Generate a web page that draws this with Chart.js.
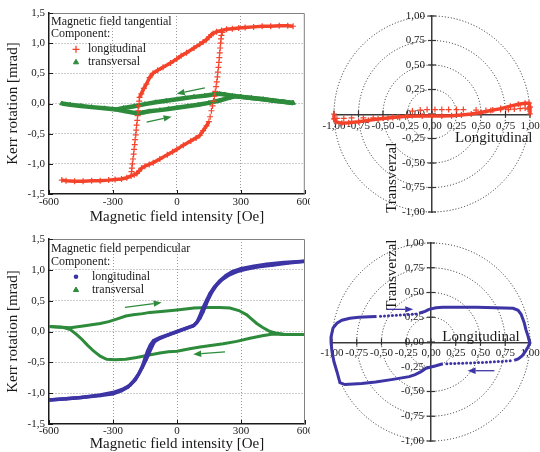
<!DOCTYPE html>
<html><head><meta charset="utf-8">
<script src="https://cdn.jsdelivr.net/npm/chart.js"></script>
<style>
html,body{margin:0;padding:0;background:#fff;overflow:hidden;}
#wrap{position:relative;width:540px;height:452px;}
#wrap canvas{position:absolute;display:block;}
</style></head><body>
<div id="wrap">
<canvas id="tanCart" width="310" height="225" style="left:0px;top:0px;width:310px;height:225px"></canvas>
<canvas id="tanPolar" width="230" height="225" style="left:310px;top:0px;width:230px;height:225px"></canvas>
<canvas id="perpCart" width="310" height="227" style="left:0px;top:225px;width:310px;height:227px"></canvas>
<canvas id="perpPolar" width="230" height="227" style="left:310px;top:225px;width:230px;height:227px"></canvas>
</div>
<script>
// ---------- tick labels ----------
const xTickLabels = ['-600', '-300', '0', '300', '600'];
const yTickLabels = ['-1,5', '-1,0', '-0,5', '0,0', '0,5', '1,0', '1,5'];
const polarTickLabels = ['-1,00', '-0,75', '-0,50', '-0,25', '0,00', '0,25', '0,50', '0,75', '1,00'];
const polarRings = [0.25, 0.5, 0.75, 1.0];

// ---------- tangential field: longitudinal [Oe, mrad] ----------
const tanLongUpper = [[545,1.28],[520,1.29],[480,1.29],[440,1.28],[400,1.28],[360,1.27],[320,1.26],[290,1.25],[260,1.24],[233,1.23],[210,1.21],[186,1.19],[170,1.16],[162,1.14],[150,1.1],[139,1.06],[123,1.02],[107,0.98],[80,0.92],[45,0.84],[20,0.79],[0,0.74],[-30,0.67],[-65,0.6],[-90,0.55],[-112,0.5],[-128,0.43],[-143,0.32],[-155,0.25],[-167,0.16],[-175,0.1]];
const tanLongJumpDown = [[-177,0.04],[-179,-0.04],[-182,-0.12],[-184,-0.2],[-186,-0.28],[-189,-0.36],[-191,-0.44],[-193,-0.52],[-196,-0.6],[-198,-0.68],[-201,-0.76],[-203,-0.84],[-206,-0.92],[-209,-1.0],[-211,-1.07],[-213,-1.13]];
const tanLongLower = [[-540,-1.27],[-520,-1.28],[-480,-1.29],[-440,-1.29],[-400,-1.28],[-360,-1.28],[-320,-1.27],[-290,-1.26],[-260,-1.25],[-235,-1.23],[-215,-1.2],[-200,-1.18],[-188,-1.16],[-178,-1.12],[-165,-1.07],[-150,-1.04],[-130,-1.01],[-111,-0.98],[-80,-0.92],[-45,-0.85],[-20,-0.8],[0,-0.76],[30,-0.69],[65,-0.62],[90,-0.57],[107,-0.53],[123,-0.45],[139,-0.37],[150,-0.3]];
const tanLongJumpUp = [[156,-0.22],[162,-0.12],[167,-0.04],[172,0.04],[176,0.12],[180,0.2],[184,0.28],[187,0.36],[190,0.44],[192,0.52],[195,0.6],[197,0.68],[199,0.76],[201,0.84],[203,0.92],[205,1.0],[207,1.07],[209,1.13],[213,1.18]];
// ---------- tangential field: transversal ----------
const tanTransUpper = [[545,0.01],[500,0.03],[450,0.05],[405,0.07],[350,0.09],[300,0.11],[260,0.13],[225,0.15],[200,0.16],[170,0.15],[130,0.13],[80,0.11],[40,0.09],[0,0.07],[-50,0.045],[-100,0.02],[-150,-0.01],[-200,-0.045],[-250,-0.075],[-283,-0.1]];
const tanTransLower = [[-540,0.0],[-500,-0.02],[-450,-0.04],[-400,-0.06],[-340,-0.08],[-283,-0.1],[-240,-0.13],[-190,-0.16],[-160,-0.15],[-130,-0.13],[-80,-0.11],[-40,-0.09],[0,-0.07],[50,-0.045],[100,-0.02],[150,0.01],[200,0.05],[240,0.09],[272,0.12],[300,0.11],[350,0.09],[405,0.07],[450,0.05],[500,0.03],[545,0.01]];
const tanArrows = [[131,0.26,-1,0.16],[-142,-0.31,-25,-0.22]];

// ---------- perpendicular field: longitudinal ----------
const perpLongDown = [[600,1.14],[500,1.12],[420,1.09],[360,1.06],[300,1.02],[260,0.97],[230,0.91],[200,0.82],[175,0.72],[155,0.62],[138,0.5],[122,0.38],[108,0.26],[95,0.16],[80,0.1],[40,0.05],[0,0.0],[-40,-0.05],[-80,-0.1],[-110,-0.15],[-125,-0.22],[-138,-0.32],[-150,-0.44],[-162,-0.56],[-176,-0.67],[-195,-0.78],[-220,-0.87],[-250,-0.93],[-300,-0.99],[-360,-1.03],[-450,-1.07],[-520,-1.09],[-600,-1.11]];
const perpLongUp = [[-600,-1.11],[-520,-1.09],[-450,-1.07],[-360,-1.04],[-300,-1.01],[-260,-0.96],[-230,-0.9],[-205,-0.81],[-182,-0.7],[-162,-0.58],[-145,-0.46],[-130,-0.34],[-117,-0.24],[-105,-0.16],[-80,-0.11],[-40,-0.055],[0,-0.005],[40,0.045],[75,0.09],[92,0.14],[108,0.22],[122,0.32],[136,0.44],[150,0.55],[165,0.65],[185,0.75],[210,0.84],[245,0.92],[280,0.97],[320,1.01],[380,1.05],[450,1.08],[520,1.11],[600,1.14]];
// ---------- perpendicular field: transversal ----------
const perpTransUp = [[-600,0.08],[-540,0.07],[-500,0.06],[-440,0.09],[-400,0.11],[-360,0.13],[-320,0.16],[-283,0.2],[-240,0.25],[-205,0.27],[-160,0.29],[-127,0.31],[-60,0.33],[0,0.35],[30,0.36],[80,0.38],[139,0.39],[200,0.39],[248,0.38],[290,0.34],[327,0.27],[350,0.2],[374,0.13],[400,0.07],[436,0.0],[470,-0.03],[500,-0.045],[550,-0.05],[600,-0.05]];
const perpTransDown = [[600,-0.05],[500,-0.05],[450,-0.04],[400,-0.07],[342,-0.11],[280,-0.16],[217,-0.2],[150,-0.23],[108,-0.25],[60,-0.28],[30,-0.3],[0,-0.32],[-40,-0.33],[-80,-0.35],[-130,-0.38],[-189,-0.42],[-240,-0.45],[-290,-0.46],[-330,-0.45],[-360,-0.4],[-390,-0.32],[-420,-0.22],[-445,-0.13],[-470,-0.05],[-500,0.03],[-540,0.07],[-600,0.08]];
const perpArrows = [[-244,0.39,-72,0.47],[225,-0.33,76,-0.37]];

// ---------- polar (normalised longitudinal, transversal) ----------
const polarTanBand = [[-1.0,0.0],[-1.0,-0.05],[-0.98,-0.08],[-0.92,-0.095],[-0.85,-0.09],[-0.75,-0.08],[-0.65,-0.065],[-0.55,-0.05],[-0.45,-0.04],[-0.35,-0.03],[-0.25,-0.022],[-0.1,-0.02],[0.0,-0.02],[0.1,-0.02],[0.2,-0.018],[0.3,-0.01],[0.4,0.0],[0.5,0.015],[0.6,0.035],[0.7,0.055],[0.8,0.08],[0.88,0.1],[0.95,0.11],[0.99,0.11],[1.0,0.07],[1.0,0.0]];
const polarTanSparseUp = [[-0.2,0.03],[-0.12,0.04],[-0.05,0.045],[0.03,0.045],[0.1,0.045],[0.17,0.045],[0.25,0.045],[0.32,0.045],[0.45,0.04],[0.55,0.035],[0.62,0.04],[0.7,0.045],[0.78,0.045],[0.84,0.05],[0.9,0.055],[0.95,0.06],[0.98,0.05]];
const polarTanSparseDown = [[-0.97,-0.045],[-0.9,-0.045],[-0.82,-0.04],[-0.7,-0.04],[-0.6,-0.04],[-0.5,-0.04],[-0.4,-0.035],[-0.33,-0.035],[-0.27,-0.03]];

const polarPerpTop = [[-0.12,0.29],[-0.06,0.31],[-0.02,0.33],[0.05,0.345],[0.12,0.35],[0.3,0.35],[0.46,0.35],[0.65,0.345],[0.83,0.34],[0.88,0.32],[0.91,0.28],[0.94,0.2],[0.96,0.12],[0.98,0.06],[0.99,0.02],[1.0,-0.01],[0.98,-0.05],[0.95,-0.1],[0.92,-0.14],[0.88,-0.17],[0.84,-0.185]];
const polarPerpDotsRight = [[0.8,-0.19],[0.76,-0.193],[0.72,-0.196],[0.68,-0.198],[0.64,-0.2],[0.6,-0.202],[0.56,-0.204],[0.52,-0.206],[0.48,-0.208],[0.44,-0.21],[0.4,-0.212],[0.36,-0.213],[0.32,-0.214],[0.28,-0.215],[0.24,-0.216],[0.2,-0.218],[0.16,-0.22]];
const polarPerpBottom = [[0.12,-0.22],[0.05,-0.24],[0.01,-0.25],[-0.05,-0.265],[-0.1,-0.3],[-0.16,-0.33],[-0.22,-0.35],[-0.4,-0.38],[-0.56,-0.405],[-0.7,-0.42],[-0.87,-0.43],[-0.92,-0.41],[-0.95,-0.3],[-0.98,-0.2],[-1.0,-0.1],[-1.01,0.0],[-1.01,0.05],[-0.99,0.14],[-0.95,0.19],[-0.9,0.22],[-0.82,0.24],[-0.73,0.25],[-0.62,0.255],[-0.55,0.257]];
const polarPerpDotsLeft = [[-0.51,0.26],[-0.47,0.262],[-0.43,0.265],[-0.39,0.268],[-0.35,0.27],[-0.31,0.272],[-0.27,0.275],[-0.23,0.278],[-0.19,0.28],[-0.15,0.284]];
const polarPerpArrows = [[-0.45,0.33,-0.18,0.33],[0.64,-0.29,0.37,-0.29]];

// ---------- styling ----------
const RED = '#f4432b', GREEN = '#2e8b3c', BLUE = '#3d34a5', INK = '#1a1a1a';
const FAM = "'Liberation Serif', 'Times New Roman', serif";
Chart.defaults.font.family = FAM;
Chart.defaults.color = INK;
Chart.defaults.animation = false;

const toXY = a => a.map(p => ({x: p[0], y: p[1]}));

const decor = {
  id: 'decor',
  beforeDatasetsDraw(chart, args, o) {
    if (!o.rings) return;
    const {ctx, scales: {x, y}} = chart;
    const cx = x.getPixelForValue(0), cy = y.getPixelForValue(0);
    ctx.save();
    ctx.strokeStyle = '#222'; ctx.lineWidth = 1; ctx.setLineDash([1, 2]);
    o.rings.forEach(r => {
      const rp = x.getPixelForValue(r) - cx;
      ctx.beginPath(); ctx.arc(cx, cy, rp, 0, Math.PI * 2); ctx.stroke();
    });
    ctx.setLineDash([]);
    ctx.strokeStyle = '#333'; ctx.lineWidth = 1.2;
    x.ticks.forEach(t => { const px = x.getPixelForValue(t.value); ctx.beginPath(); ctx.moveTo(px, cy - 3.5); ctx.lineTo(px, cy + 3.5); ctx.stroke(); });
    y.ticks.forEach(t => { const py = y.getPixelForValue(t.value); ctx.beginPath(); ctx.moveTo(cx - 4, py); ctx.lineTo(cx + 4, py); ctx.stroke(); });
    ctx.restore();
  },
  afterDatasetsDraw(chart, args, o) {
    const {ctx, chartArea: a, scales: {x, y}} = chart;
    ctx.save();
    if (o.frame) {
      ctx.strokeStyle = '#808080'; ctx.lineWidth = 1;
      ctx.beginPath(); ctx.moveTo(a.left, a.top + 0.5); ctx.lineTo(a.right - 0.5, a.top + 0.5); ctx.lineTo(a.right - 0.5, a.bottom); ctx.stroke();
      ctx.strokeStyle = INK; ctx.lineWidth = 1;
      x.ticks.forEach(t => { const px = Math.round(x.getPixelForValue(t.value)) + 0.5; ctx.beginPath(); ctx.moveTo(px, a.bottom); ctx.lineTo(px, a.bottom - 4); ctx.stroke(); });
      y.ticks.forEach(t => { const py = Math.round(y.getPixelForValue(t.value)) + 0.5; ctx.beginPath(); ctx.moveTo(a.left, py); ctx.lineTo(a.left + 4, py); ctx.stroke(); });
    }
    (o.arrows || []).forEach(ar => {
      const x1 = x.getPixelForValue(ar[0]), y1 = y.getPixelForValue(ar[1]);
      const x2 = x.getPixelForValue(ar[2]), y2 = y.getPixelForValue(ar[3]);
      const ang = Math.atan2(y2 - y1, x2 - x1), hl = 8, hw = 3.2;
      const bx = x2 - hl * Math.cos(ang), by = y2 - hl * Math.sin(ang);
      ctx.strokeStyle = o.arrowColor; ctx.fillStyle = o.arrowColor; ctx.lineWidth = 1.3;
      ctx.beginPath(); ctx.moveTo(x1, y1); ctx.lineTo(bx, by); ctx.stroke();
      ctx.beginPath(); ctx.moveTo(x2, y2);
      ctx.lineTo(bx + hw * Math.sin(ang), by - hw * Math.cos(ang));
      ctx.lineTo(bx - hw * Math.sin(ang), by + hw * Math.cos(ang));
      ctx.closePath(); ctx.fill();
    });
    (o.texts || []).forEach(t => {
      ctx.save();
      ctx.translate(x.getPixelForValue(t.at[0]), y.getPixelForValue(t.at[1]));
      ctx.rotate(t.rot || 0);
      ctx.font = '15px ' + FAM; ctx.fillStyle = INK; ctx.textAlign = 'center'; ctx.textBaseline = 'middle';
      ctx.fillText(t.text, 0, 0);
      ctx.restore();
    });
    if (o.legend) {
      const L = o.legend;
      ctx.font = '12px ' + FAM; ctx.textBaseline = 'middle'; ctx.textAlign = 'left';
      L.title.forEach((t, i) => { ctx.fillStyle = INK; ctx.fillText(t, a.left + L.titleX, a.top + L.rows[i]); });
      L.items.forEach((it, i) => {
        const ds = chart.data.datasets[it.ds];
        const yy = a.top + L.rows[L.title.length + i];
        ctx.strokeStyle = ds.borderColor; ctx.fillStyle = ds.borderColor; ctx.lineWidth = it.bw;
        Chart.helpers.drawPoint(ctx, {pointStyle: ds.pointStyle, radius: it.r, borderWidth: it.bw, rotation: 0}, a.left + L.markX, yy);
        ctx.fillStyle = INK;
        ctx.fillText(ds.label, a.left + L.textX, yy);
      });
    }
    ctx.restore();
  }
};

function cartScales(xPad, xH) {
  const gridColor = c => (c.tick && (c.tick.value <= c.scale.min + 1e-9 || c.tick.value >= c.scale.max - 1e-9)) ? 'rgba(0,0,0,0)' : '#9a9a9a';
  return {
    x: {
      type: 'linear', min: -600, max: 600,
      ticks: {stepSize: 300, autoSkip: false, maxRotation: 0, padding: xPad, font: {size: 11}, color: INK, callback: (v, i) => xTickLabels[i]},
      grid: {color: gridColor, lineWidth: 1, drawTicks: false},
      border: {display: true, color: INK, width: 1.5, dash: [1, 2]},
      title: {display: true, text: 'Magnetic field intensity [Oe]', font: {size: 15, lineHeight: 1}, padding: 0, color: INK},
      afterFit: s => { s.height = xH; s.paddingLeft = 0; s.paddingRight = 0; }
    },
    y: {
      type: 'linear', min: -1.5, max: 1.5,
      ticks: {stepSize: 0.5, autoSkip: false, padding: 4, font: {size: 11}, color: INK, callback: (v, i) => yTickLabels[i]},
      grid: {color: gridColor, lineWidth: 1, drawTicks: false},
      border: {display: true, color: INK, width: 1.5, dash: [1, 2]},
      title: {display: true, text: 'Kerr rotation [mrad]', font: {size: 15, lineHeight: 1}, padding: {top: 5.5, bottom: 0}, color: INK},
      afterFit: s => { s.width = 49; s.paddingTop = 0; s.paddingBottom = 0; }
    }
  };
}

function polarScales(xPad) {
  const base = () => ({
    type: 'linear', min: -1, max: 1, position: 'center',
    grid: {display: false, drawTicks: false},
    border: {display: true, color: '#3a3a3a', width: 1.5}
  });
  const tk = pad => ({stepSize: 0.25, autoSkip: false, maxRotation: 0, padding: pad, font: {size: 11}, color: INK, callback: (v, i) => polarTickLabels[i]});
  return {
    x: Object.assign(base(), {ticks: tk(xPad), afterFit: s => { s.height = 0; s.paddingLeft = 0; s.paddingRight = 0; }}),
    y: Object.assign(base(), {ticks: tk(7), afterFit: s => { s.width = 0; s.paddingTop = 0; s.paddingBottom = 0; }})
  };
}

const lineSet = (label, data, color, bw, style, r, pbw) => ({
  label, data: toXY(data), showLine: true, borderColor: color, backgroundColor: color,
  borderWidth: bw, pointStyle: style, pointRadius: r, pointBorderWidth: pbw, pointBackgroundColor: color, pointBorderColor: color
});
const dotSet = (label, data, color, style, r, pbw) => ({
  label, data: toXY(data), showLine: false, borderColor: color, backgroundColor: color,
  pointStyle: style, pointRadius: r, pointBorderWidth: pbw, pointBackgroundColor: color, pointBorderColor: color
});

const commonPlugins = extra => Object.assign({legend: {display: false}, tooltip: {enabled: false}}, extra);

// ---- top-left ----
new Chart(document.getElementById('tanCart'), {
  type: 'scatter',
  data: {datasets: [
    lineSet('longitudinal', tanLongUpper, RED, 3.5, 'cross', 3, 1.2),
    lineSet('longitudinal', tanLongLower, RED, 3.5, 'cross', 3, 1.2),
    dotSet('longitudinal', tanLongJumpDown, RED, 'cross', 3, 1.2),
    dotSet('longitudinal', tanLongJumpUp, RED, 'cross', 3, 1.2),
    lineSet('transversal', tanTransUpper, GREEN, 4.5, 'triangle', 2.5, 1),
    lineSet('transversal', tanTransLower, GREEN, 4.5, 'triangle', 2.5, 1)
  ]},
  options: {
    responsive: false, animation: false,
    layout: {padding: {left: 0, top: 13, right: 5, bottom: 0}},
    scales: cartScales(1.5, 31),
    plugins: commonPlugins({decor: {frame: true, arrows: tanArrows, arrowColor: GREEN,
      legend: {title: ['Magnetic field tangential', 'Component:'], rows: [8.8, 21.3, 36.3, 49.3], titleX: 2, markX: 27, textX: 39,
        items: [{ds: 0, r: 3.5, bw: 1.3}, {ds: 4, r: 3, bw: 1}]}}})
  },
  plugins: [decor]
});

// ---- top-right polar ----
new Chart(document.getElementById('tanPolar'), {
  type: 'scatter',
  data: {datasets: [
    lineSet('longitudinal', polarTanBand, RED, 3.5, 'cross', 3, 1.2),
    dotSet('longitudinal', polarTanSparseUp, RED, 'cross', 3, 1.2),
    dotSet('longitudinal', polarTanSparseDown, RED, 'cross', 3, 1.2)
  ].map(d => Object.assign(d, {clip: false}))},
  options: {
    responsive: false, animation: false,
    layout: {padding: {left: 24, top: 16, right: 10, bottom: 13}},
    scales: polarScales(6),
    plugins: commonPlugins({decor: {rings: polarRings,
      texts: [{text: 'Longitudinal', at: [0.63, -0.245]}, {text: 'Transverzal', at: [-0.41, -0.65], rot: -Math.PI / 2}]}})
  },
  plugins: [decor]
});

// ---- bottom-left ----
new Chart(document.getElementById('perpCart'), {
  type: 'scatter',
  data: {datasets: [
    lineSet('longitudinal', perpLongDown, BLUE, 3.5, 'circle', 1.5, 0),
    lineSet('longitudinal', perpLongUp, BLUE, 3.5, 'circle', 1.5, 0),
    lineSet('transversal', perpTransUp, GREEN, 3, 'triangle', 1.5, 0),
    lineSet('transversal', perpTransDown, GREEN, 3, 'triangle', 1.5, 0)
  ]},
  options: {
    responsive: false, animation: false,
    layout: {padding: {left: 0, top: 14, right: 5, bottom: 0}},
    scales: cartScales(1, 28),
    plugins: commonPlugins({decor: {frame: true, arrows: perpArrows, arrowColor: GREEN,
      legend: {title: ['Magnetic field perpendicular', 'Component:'], rows: [10, 22.7, 37.7, 51], titleX: 2, markX: 27, textX: 43,
        items: [{ds: 0, r: 2.3, bw: 0}, {ds: 2, r: 3, bw: 1}]}}})
  },
  plugins: [decor]
});

// ---- bottom-right polar ----
new Chart(document.getElementById('perpPolar'), {
  type: 'scatter',
  data: {datasets: [
    lineSet('longitudinal', polarPerpTop, BLUE, 3, 'circle', 0, 0),
    lineSet('longitudinal', polarPerpBottom, BLUE, 3, 'circle', 0, 0),
    dotSet('longitudinal', polarPerpDotsRight, BLUE, 'circle', 1.5, 0),
    dotSet('longitudinal', polarPerpDotsLeft, BLUE, 'circle', 1.5, 0)
  ].map(d => Object.assign(d, {clip: false}))},
  options: {
    responsive: false, animation: false,
    layout: {padding: {left: 22, top: 18, right: 10, bottom: 11}},
    scales: polarScales(4.5),
    plugins: commonPlugins({decor: {rings: polarRings, arrows: polarPerpArrows, arrowColor: BLUE,
      texts: [{text: 'Longitudinal', at: [0.505, 0.05]}, {text: 'Transverzal', at: [-0.39, 0.68], rot: -Math.PI / 2}]}})
  },
  plugins: [decor]
});
</script>
</body></html>
